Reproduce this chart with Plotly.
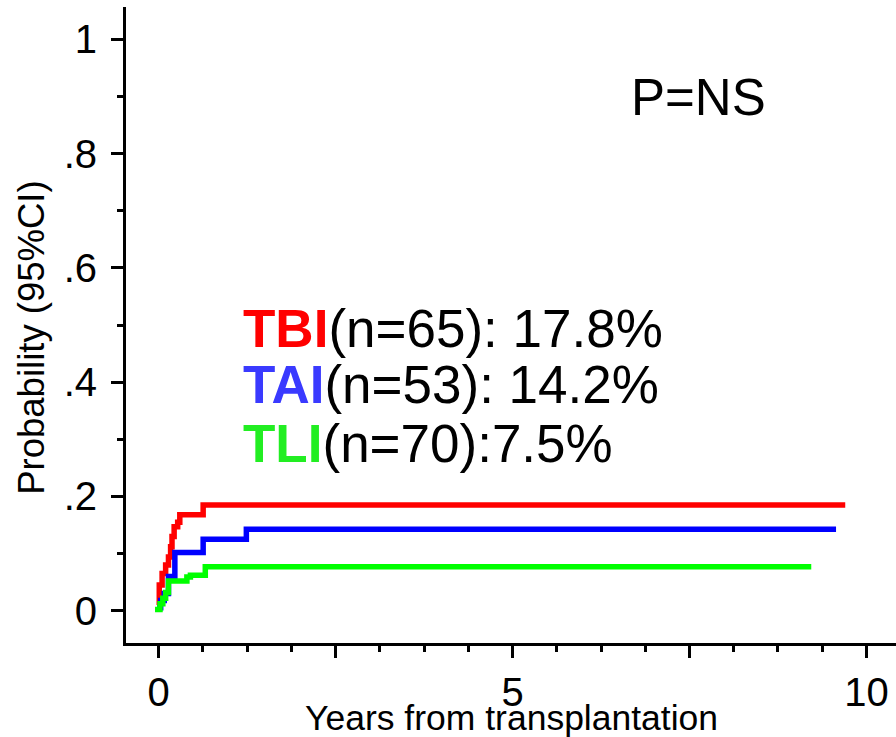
import plotly.graph_objects as go

# Step data (years, cumulative probability)
red_t = [0.00, 0.01, 0.05, 0.10, 0.14, 0.17, 0.19, 0.22, 0.27, 0.30, 0.63, 9.70]
red_y = [0.010, 0.045, 0.065, 0.080, 0.094, 0.112, 0.130, 0.147, 0.155, 0.168, 0.185, 0.185]

blue_t = [-0.02, 0.03, 0.08, 0.14, 0.23, 0.63, 1.24, 9.57]
blue_y = [0.005, 0.018, 0.030, 0.060, 0.102, 0.125, 0.1425, 0.1425]

green_t = [-0.05, 0.02, 0.06, 0.10, 0.14, 0.40, 0.45, 0.66, 9.22]
green_y = [0.002, 0.012, 0.022, 0.032, 0.052, 0.059, 0.062, 0.077, 0.077]

x_tickvals = [0, 2.5, 5, 7.5, 10]
x_ticktext = ["0", "", "5", "", "10"]
y_tickvals = [0, 0.2, 0.4, 0.6, 0.8, 1.0]
y_ticktext = ["0", ".2", ".4", ".6", ".8", "1"]

legend_lines = [
    ("TBI", "#ff0000", "(n=65): 17.8%", 0.4935),
    ("TAI", "#3a3aff", "(n=53): 14.2%", 0.3967),
    ("TLI", "#22ee22", "(n=70):7.5%", 0.2923),
]

FONT = "Liberation Sans, Arial, Helvetica, sans-serif"

fig = go.Figure()
for t, y, c in [(red_t, red_y, "#ff0000"), (blue_t, blue_y, "#0000ff"), (green_t, green_y, "#00ff00")]:
    fig.add_trace(go.Scatter(x=t, y=y, mode="lines", line=dict(color=c, width=5.5, shape="hv"),
                             showlegend=False, hoverinfo="skip"))

for name, col, rest, yv in legend_lines:
    fig.add_annotation(x=1.164, y=yv, xref="x", yref="y", xanchor="left", yanchor="middle",
                       showarrow=False,
                       text=f"<span style='color:{col}'><b>{name}</b></span>{rest}",
                       font=dict(family=FONT, size=53, color="black"))

fig.add_annotation(x=7.62, y=0.899, xref="x", yref="y", xanchor="center", yanchor="middle",
                   showarrow=False, text="P=NS", font=dict(family=FONT, size=51, color="black"))

fig.add_annotation(x=0.501, y=-0.118, xref="paper", yref="paper", xanchor="center", yanchor="middle",
                   showarrow=False, text="Years from transplantation",
                   font=dict(family=FONT, size=35.5, color="black"))
fig.add_annotation(x=-0.122, y=0.48, xref="paper", yref="paper", xanchor="center", yanchor="middle",
                   showarrow=False, text="Probability (95%CI)", textangle=-90,
                   font=dict(family=FONT, size=36.5, color="black"))

fig.update_layout(
    width=896, height=737,
    margin=dict(l=126, r=0, t=7, b=94),
    paper_bgcolor="white", plot_bgcolor="white",
    font=dict(family=FONT, color="black"),
)
fig.update_xaxes(range=[-0.46, 10.417], showgrid=False, zeroline=False,
                 showline=True, linecolor="black", linewidth=3,
                 ticks="outside", ticklen=12, tickwidth=3, tickcolor="black",
                 tickvals=x_tickvals, ticktext=x_ticktext,
                 tickfont=dict(family=FONT, size=40, color="black"),
                 minor=dict(dtick=0.625, tick0=0, ticks="outside", ticklen=6, tickwidth=3, tickcolor="black"))
fig.update_yaxes(range=[-0.0565, 1.0565], showgrid=False, zeroline=False,
                 showline=True, linecolor="black", linewidth=3,
                 ticks="outside", ticklen=12, tickwidth=3, tickcolor="black",
                 tickvals=y_tickvals, ticktext=y_ticktext,
                 tickfont=dict(family=FONT, size=40, color="black"),
                 ticklabelstandoff=6,
                 minor=dict(dtick=0.1, tick0=0, ticks="outside", ticklen=6, tickwidth=3, tickcolor="black"))

fig.write_html("out.html")
